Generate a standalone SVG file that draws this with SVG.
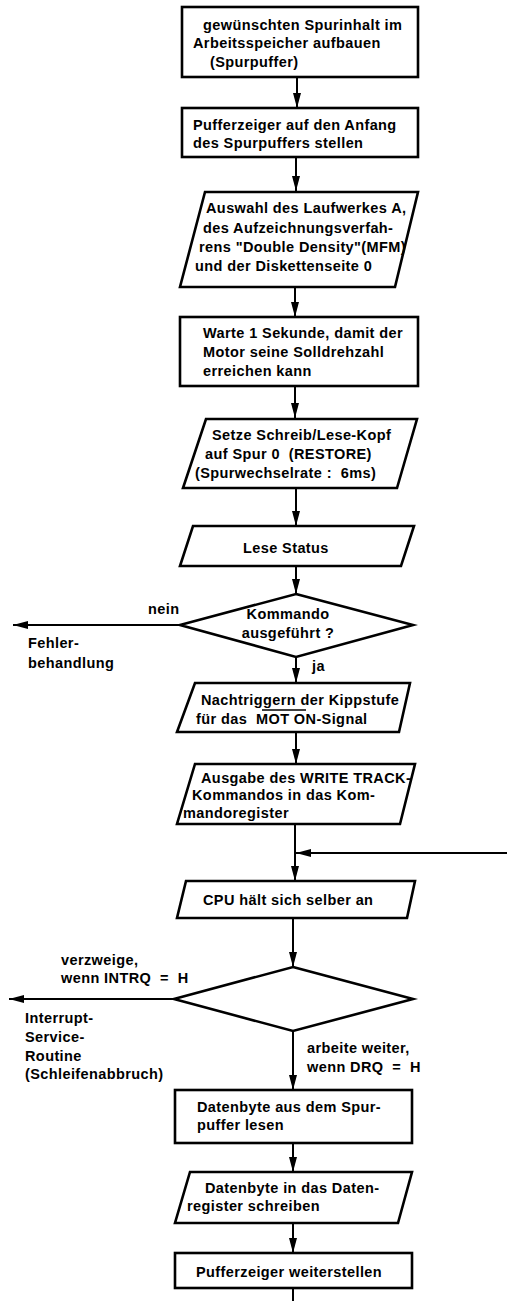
<svg xmlns="http://www.w3.org/2000/svg" width="507" height="1301" viewBox="0 0 507 1301">
<defs>
<marker id="ah" markerWidth="16" markerHeight="10" refX="15" refY="5" orient="auto" markerUnits="userSpaceOnUse">
<path d="M0,1 L15,5 L0,9 Z" fill="#000"/>
</marker>
<style>
.shape{fill:#fff;stroke:#000;stroke-width:2.6;stroke-linejoin:miter}
.con{fill:none;stroke:#000;stroke-width:2}
text{font-family:"Liberation Sans",Arial,sans-serif;font-size:14.5px;font-weight:bold;letter-spacing:0.4px;fill:#000}
</style>
</defs>
<rect width="507" height="1301" fill="#fff"/>
<g id="connectors">
<line class="con" x1="297" y1="77" x2="297" y2="108" marker-end="url(#ah)"/>
<line class="con" x1="296" y1="157" x2="296" y2="191" marker-end="url(#ah)"/>
<line class="con" x1="295" y1="287" x2="295" y2="317" marker-end="url(#ah)"/>
<line class="con" x1="295" y1="386" x2="295" y2="418" marker-end="url(#ah)"/>
<line class="con" x1="296" y1="488" x2="296" y2="526" marker-end="url(#ah)"/>
<line class="con" x1="296" y1="566" x2="296" y2="594" marker-end="url(#ah)"/>
<line class="con" x1="180" y1="625" x2="13" y2="625" marker-end="url(#ah)"/>
<line class="con" x1="296" y1="657" x2="296" y2="683" marker-end="url(#ah)"/>
<line class="con" x1="296" y1="732" x2="296" y2="764" marker-end="url(#ah)"/>
<line class="con" x1="295" y1="824" x2="295" y2="881" marker-end="url(#ah)"/>
<line class="con" x1="507" y1="853" x2="296" y2="853" marker-end="url(#ah)"/>
<line class="con" x1="293" y1="918" x2="293" y2="967" marker-end="url(#ah)"/>
<line class="con" x1="174" y1="999" x2="9" y2="999" marker-end="url(#ah)"/>
<line class="con" x1="293" y1="1031" x2="293" y2="1090" marker-end="url(#ah)"/>
<line class="con" x1="293" y1="1143" x2="293" y2="1172" marker-end="url(#ah)"/>
<line class="con" x1="293" y1="1223" x2="293" y2="1253" marker-end="url(#ah)"/>
<line class="con" x1="293" y1="1288" x2="293" y2="1301"/>
<text x="148" y="614">nein</text>
<text x="28" y="648">Fehler-</text>
<text x="28" y="668">behandlung</text>
<text x="312" y="671">ja</text>
<text x="61" y="965">verzweige,</text>
<text x="61" y="983" xml:space="preserve">wenn INTRQ  =  H</text>
<text x="25" y="1023">Interrupt-</text>
<text x="25" y="1042">Service-</text>
<text x="25" y="1061">Routine</text>
<text x="25" y="1079">(Schleifenabbruch)</text>
<text x="307" y="1053">arbeite weiter,</text>
<text x="307" y="1072" xml:space="preserve">wenn DRQ  =  H</text>
</g>
<g id="n1">
<rect class="shape" x="182" y="7" width="236" height="70" stroke-width="3"/>
<text x="203" y="30">gewünschten Spurinhalt im</text>
<text x="193" y="48">Arbeitsspeicher aufbauen</text>
<text x="210" y="67">(Spurpuffer)</text>
</g>
<g id="n2">
<rect class="shape" x="182" y="108" width="236" height="49"/>
<text x="193" y="130">Pufferzeiger auf den Anfang</text>
<text x="193" y="148">des Spurpuffers stellen</text>
</g>
<g id="n3">
<polygon class="shape" points="205,192 418,192 395,287 180,287"/>
<text x="206" y="213">Auswahl des Laufwerkes A,</text>
<text x="203" y="233">des Aufzeichnungsverfah-</text>
<text x="199" y="252">rens "Double Density"(MFM)</text>
<text x="195" y="271">und der Diskettenseite 0</text>
</g>
<g id="n4">
<rect class="shape" x="180" y="317" width="238" height="69"/>
<text x="203" y="338">Warte 1 Sekunde, damit der</text>
<text x="203" y="357">Motor seine Solldrehzahl</text>
<text x="203" y="376">erreichen kann</text>
</g>
<g id="n5">
<polygon class="shape" points="206,419 417,419 397,488 183,488"/>
<text x="212" y="440">Setze Schreib/Lese-Kopf</text>
<text x="205" y="459" xml:space="preserve">auf Spur 0  (RESTORE)</text>
<text x="195" y="478" xml:space="preserve">(Spurwechselrate :  6ms)</text>
</g>
<g id="n6">
<polygon class="shape" points="193,526 414,526 401,566 180,566"/>
<text x="243" y="553">Lese Status</text>
</g>
<g id="n7">
<polygon class="shape" points="296,594 413,625 296,657 180,625"/>
<text x="288" y="619" text-anchor="middle">Kommando</text>
<text x="288" y="638" text-anchor="middle">ausgeführt ?</text>
</g>
<g id="n8">
<polygon class="shape" points="195,683 410,683 399,732 177,732"/>
<text x="201" y="705">Nachtriggern der Kippstufe</text>
<text x="196" y="724" xml:space="preserve">für das  MOT ON-Signal</text>
<line x1="262" y1="710" x2="306" y2="710" stroke="#000" stroke-width="1.6"/>
</g>
<g id="n9">
<polygon class="shape" points="195,764 415,764 400,824 177,824"/>
<text x="201" y="783">Ausgabe des WRITE TRACK-</text>
<text x="192" y="800">Kommandos in das Kom-</text>
<text x="183" y="818">mandoregister</text>
</g>
<g id="n10">
<polygon class="shape" points="186,881 415,881 407,918 177,918"/>
<text x="203" y="905">CPU hält sich selber an</text>
</g>
<g id="n11">
<polygon class="shape" points="293,967 413,999 293,1031 174,999"/>
</g>
<g id="n12">
<rect class="shape" x="175" y="1090" width="237" height="53"/>
<text x="197" y="1112">Datenbyte aus dem Spur-</text>
<text x="197" y="1130">puffer lesen</text>
</g>
<g id="n13">
<polygon class="shape" points="190,1172 412,1172 398,1223 175,1223"/>
<text x="205" y="1193">Datenbyte in das Daten-</text>
<text x="187" y="1211">register schreiben</text>
</g>
<g id="n14">
<rect class="shape" x="175" y="1253" width="237" height="35"/>
<text x="196" y="1277">Pufferzeiger weiterstellen</text>
</g>
</svg>
